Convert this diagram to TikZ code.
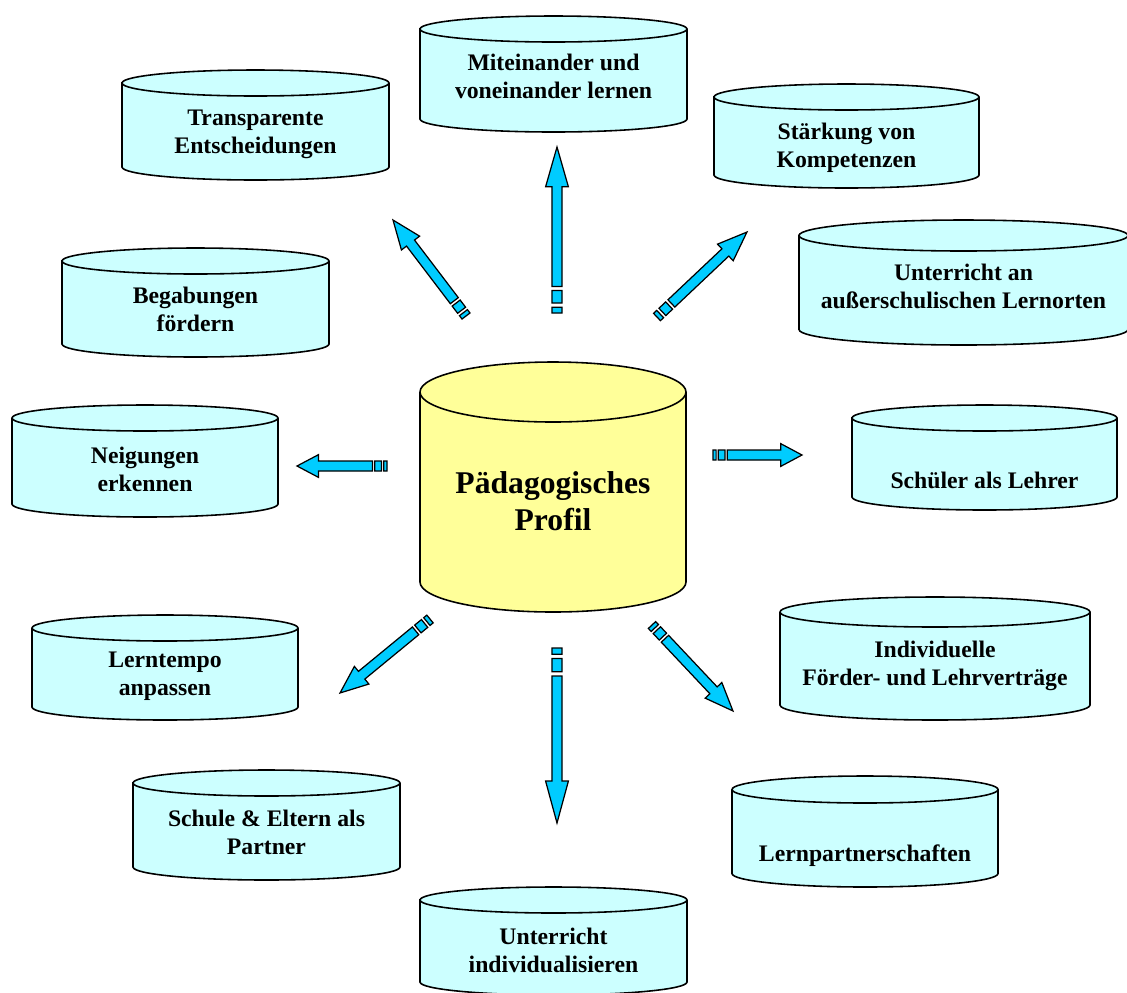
\documentclass[tikz,border=0pt]{standalone}
\usepackage{fontspec}
\setmainfont{Liberation Serif}
\usetikzlibrary{calc}
\definecolor{cylcyan}{RGB}{204,255,255}
\definecolor{cylyellow}{RGB}{255,255,153}
\definecolor{arrowblue}{RGB}{0,204,255}

\tikzset{
  cylline/.style={draw=black, line width=0.9pt},
  cyltext/.style={align=center, inner sep=0pt,
    font=\fontsize{13.5}{16}\selectfont\bfseries},
  arrowbody/.style={draw=black, line width=0.7pt, fill=arrowblue, line join=miter},
}

% cylinder: centre x, centre y, width, height, radius of the end, fill (px)
\newcommand{\cylshape}[6]{%
  \draw[cylline, fill=#6]
    ({#1-#3/2},{#2-#4/2+#5}) -- ({#1-#3/2},{#2+#4/2-#5})
    arc[start angle=180, end angle=0, x radius=#3/2, y radius=#5]
    -- ({#1+#3/2},{#2-#4/2+#5})
    arc[start angle=0, end angle=-180, x radius=#3/2, y radius=#5] -- cycle;
  \draw[cylline] ({#1-#3/2},{#2-#4/2+#5})
    arc[start angle=180, end angle=0, x radius=#3/2, y radius=#5];}

% striped arrow from #1 (tail) to #2 (tip)
\newcommand{\stripearrow}[2]{%
  \path let \p1=($(#2)-(#1)$) in
    \pgfextra{\pgfmathsetmacro{\arrang}{atan2(\y1,\x1)}%
      \pgfmathsetmacro{\arrlen}{veclen(\x1,\y1)}%
      \xdef\arrowangle{\arrang}\xdef\arrowlength{\arrlen}};
  \begin{scope}[shift={(#1)}, rotate=\arrowangle, x=\arrowlength pt, y=1pt]
    \draw[arrowbody] (0,-2.85) rectangle (0.035,2.85)
      (0.06,-2.85) rectangle (0.135,2.85)
      (0.16,-2.85) -- (0.76,-2.85) -- (0.76,-6.5) -- (1,0)
      -- (0.76,6.5) -- (0.76,2.85) -- (0.16,2.85) -- cycle;
  \end{scope}}

\begin{document}
\begin{tikzpicture}[x=0.02cm, y=-0.02cm]
  \useasboundingbox (0,0) rectangle (1127,992);

  % cylinders
  \cylshape{553.5}{74}{267}{116}{13}{cylcyan}
  \cylshape{255.5}{125}{267}{110}{13}{cylcyan}
  \cylshape{846.5}{136}{265}{104}{13}{cylcyan}
  \cylshape{963.5}{282.5}{329}{125}{15.5}{cylcyan}
  \cylshape{195.5}{302.5}{267}{109}{13}{cylcyan}
  \cylshape{145}{461}{266}{112}{13}{cylcyan}
  \cylshape{553}{487}{266}{250}{30}{cylyellow}
  \cylshape{984.5}{457.5}{265}{105}{13}{cylcyan}
  \cylshape{165}{667.5}{266}{105}{13}{cylcyan}
  \cylshape{935}{658.5}{310}{123}{15}{cylcyan}
  \cylshape{266.5}{825}{267}{110}{13}{cylcyan}
  \cylshape{865}{831.5}{266}{111}{13.5}{cylcyan}
  \cylshape{553.5}{941}{267}{108}{13}{cylcyan}

  % texts
  \node[cyltext] (mit) at (553.5,76) {Miteinander und\\voneinander lernen};
  \node[cyltext] (transp) at (255.5,134) {Transparente\\Entscheidungen};
  \node[cyltext] (staerk) at (846.5,147.5) {Stärkung von\\Kompetenzen};
  \node[cyltext] (ausser) at (963.5,286) {Unterricht an\\außerschulischen Lernorten};
  \node[cyltext] (begab) at (195.5,309) {Begabungen\\fördern};
  \node[cyltext] (neig) at (145,469) {Neigungen\\erkennen};
  \node[cyltext, font=\fontsize{18}{21}\selectfont\bfseries] (profil) at (553,501)
    {Pädagogisches\\Profil};
  \node[cyltext] (schueler) at (984.5,480.5) {Schüler als Lehrer};
  \node[cyltext] (tempo) at (165,676) {Lerntempo\\anpassen};
  \node[cyltext] (indiv) at (935,665.5) {Individuelle\\Förder- und Lehrverträge};
  \node[cyltext] (schule) at (266.5,832) {Schule \& Eltern als\\Partner};
  \node[cyltext] (lernp) at (865,856) {Lernpartnerschaften};
  \node[cyltext] (unterr) at (553.5,950) {Unterricht\\individualisieren};

  % arrow ends
  \coordinate (upT) at (557,313);  \coordinate (upH) at (557,147);
  \coordinate (ulT) at (466,316);  \coordinate (ulH) at (393,220);
  \coordinate (urT) at (657,317);  \coordinate (urH) at (747,232);
  \coordinate (lT) at (387,466);   \coordinate (lH) at (297,466);
  \coordinate (rT) at (713,455);   \coordinate (rH) at (802,455);
  \coordinate (llT) at (430,619);  \coordinate (llH) at (340,693);
  \coordinate (dnT) at (557,648);  \coordinate (dnH) at (557,823);
  \coordinate (lrT) at (652,625);  \coordinate (lrH) at (733,711);

  \foreach \a in {up, ul, ur, l, r, ll, dn, lr}
    \stripearrow{\a T}{\a H};
\end{tikzpicture}
\end{document}
